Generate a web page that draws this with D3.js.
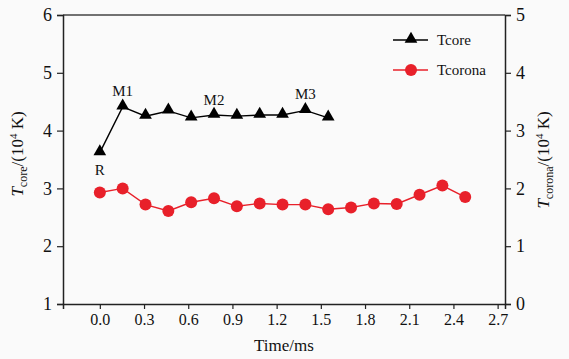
<!DOCTYPE html>
<html>
<head>
<meta charset="utf-8">
<script src="https://cdn.jsdelivr.net/npm/d3@7"></script>
<style>
  body { margin: 0; background: #fafafa; }
  svg { display: block; }
  svg text { font-family: "Liberation Serif", "Times New Roman", Times, Tinos, "DejaVu Serif", "Noto Serif", serif !important; }
</style>
</head>
<body>
<svg width="569" height="359"></svg>
<script>
// time in ms
const coreTime = [0.0, 0.155, 0.31, 0.465, 0.62, 0.775, 0.93, 1.085, 1.24, 1.395, 1.55];
const coreTemp = [3.62, 4.41, 4.25, 4.34, 4.22, 4.27, 4.25, 4.27, 4.27, 4.35, 4.22];
const coronaTime = [0.0, 0.155, 0.31, 0.465, 0.62, 0.775, 0.93, 1.085, 1.24, 1.395, 1.55, 1.705, 1.86, 2.015, 2.17, 2.325, 2.48];
const coronaTemp = [1.93, 2.0, 1.72, 1.61, 1.76, 1.83, 1.69, 1.74, 1.72, 1.72, 1.64, 1.67, 1.74, 1.73, 1.89, 2.05, 1.85];
const xTicks = [0.0, 0.3, 0.6, 0.9, 1.2, 1.5, 1.8, 2.1, 2.4, 2.7];
const leftTicks = [1, 2, 3, 4, 5, 6];
const rightTicks = [0, 1, 2, 3, 4, 5];
const notes = [
  { label: "R", i: 0, dy: 22 },
  { label: "M1", i: 1, dy: -11 },
  { label: "M2", i: 5, dy: -10 },
  { label: "M3", i: 9, dy: -11 },
];

const m = { left: 63, right: 64, top: 15, bottom: 55 };
const svg = d3.select("svg");
const W = +svg.attr("width"), H = +svg.attr("height");

const x = d3.scaleLinear().domain([-0.25, 2.75]).range([m.left, W - m.right]);
const yL = d3.scaleLinear().domain([1, 6]).range([H - m.bottom, m.top]);
const yR = d3.scaleLinear().domain([0, 5]).range([H - m.bottom, m.top]);

const red = "#e8202a";

// top frame line
svg.append("line")
  .attr("x1", m.left).attr("x2", W - m.right)
  .attr("y1", m.top).attr("y2", m.top)
  .attr("stroke", "#444").attr("stroke-width", 1.5);

const styleAxis = (g, size) => {
  g.attr("font-family", null);
  g.select(".domain").attr("stroke", "#222").attr("stroke-width", 1.5);
  g.selectAll(".tick line").attr("stroke", "#222").attr("stroke-width", 1.2);
  g.selectAll(".tick text").attr("font-size", size).attr("fill", "#111");
};

svg.append("g")
  .attr("transform", `translate(0,${H - m.bottom})`)
  .call(d3.axisBottom(x).tickValues(xTicks).tickFormat(d3.format(".1f")).tickSizeOuter(0).tickSize(5).tickPadding(5))
  .call(g => styleAxis(g, 16));

svg.append("g")
  .attr("transform", `translate(${m.left},0)`)
  .call(d3.axisLeft(yL).tickValues(leftTicks).tickFormat(d3.format("d")).tickSizeOuter(0).tickSize(6).tickPadding(5))
  .call(g => styleAxis(g, 18));

svg.append("g")
  .attr("transform", `translate(${W - m.right},0)`)
  .call(d3.axisRight(yR).tickValues(rightTicks).tickFormat(d3.format("d")).tickSizeOuter(0).tickSize(6).tickPadding(5))
  .call(g => styleAxis(g, 18));

// axis titles
svg.append("text")
  .attr("x", x(1.25)).attr("y", H - 8)
  .attr("text-anchor", "middle").attr("font-size", 17).attr("fill", "#111")
  .text("Time/ms");

const yTitle = (tx, ty, sub) => {
  const t = svg.append("text")
    .attr("transform", `translate(${tx},${ty}) rotate(-90)`)
    .attr("text-anchor", "middle").attr("font-size", 17).attr("fill", "#111");
  t.append("tspan").attr("font-style", "italic").text("T");
  t.append("tspan").attr("font-size", 12).attr("dy", 4).text(sub);
  t.append("tspan").attr("dy", -4).text("/(10");
  t.append("tspan").attr("font-size", 11).attr("dy", -6).text("4");
  t.append("tspan").attr("dy", 6).text(" K)");
};
yTitle(23, 154, "core");
yTitle(549, 160, "corona");

// series lines
const coreData = coreTime.map((t, i) => [t, coreTemp[i]]);
const coronaData = coronaTime.map((t, i) => [t, coronaTemp[i]]);

svg.append("path")
  .datum(coreData)
  .attr("fill", "none").attr("stroke", "#000").attr("stroke-width", 1.4)
  .attr("d", d3.line().x(d => x(d[0])).y(d => yL(d[1])));

svg.append("path")
  .datum(coronaData)
  .attr("fill", "none").attr("stroke", red).attr("stroke-width", 1.4)
  .attr("d", d3.line().x(d => x(d[0])).y(d => yR(d[1])));

const tri = d3.symbol().type(d3.symbolTriangle).size(70);

svg.append("g").selectAll("path")
  .data(coreData)
  .join("path")
  .attr("d", tri)
  .attr("transform", d => `translate(${x(d[0])},${yL(d[1]) - 1})`)
  .attr("fill", "#000");

svg.append("g").selectAll("circle")
  .data(coronaData)
  .join("circle")
  .attr("cx", d => x(d[0])).attr("cy", d => yR(d[1]))
  .attr("r", 6).attr("fill", red);

// annotations
svg.append("g").selectAll("text")
  .data(notes)
  .join("text")
  .attr("x", d => x(coreTime[d.i]))
  .attr("y", d => yL(coreTemp[d.i]) + d.dy)
  .attr("text-anchor", "middle").attr("font-size", 15).attr("fill", "#111")
  .text(d => d.label);

// legend
const legend = [
  { name: "Tcore", color: "#000", shape: "tri" },
  { name: "Tcorona", color: red, shape: "circle" },
];
const lg = svg.append("g").attr("transform", "translate(393,40)");
legend.forEach((d, i) => {
  const g = lg.append("g").attr("transform", `translate(0,${i * 30})`);
  g.append("line").attr("x1", 0).attr("x2", 35).attr("stroke", d.color).attr("stroke-width", 1.4);
  if (d.shape === "tri") {
    g.append("path").attr("d", tri).attr("transform", "translate(18,-1)").attr("fill", d.color);
  } else {
    g.append("circle").attr("cx", 18).attr("r", 6).attr("fill", d.color);
  }
  g.append("text").attr("x", 44).attr("y", 5).attr("font-size", 15).attr("fill", "#111").text(d.name);
});
</script>
</body>
</html>
